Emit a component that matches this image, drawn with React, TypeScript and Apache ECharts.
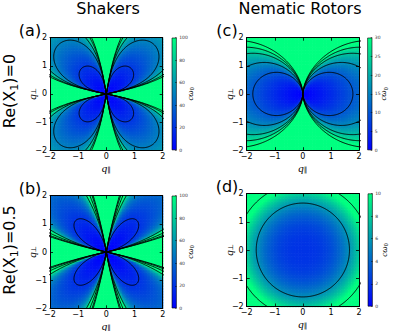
import React, { useEffect, useRef } from 'react';
import * as echarts from 'echarts';

// ---- data / model parameters ----
const AXIS_MIN = -2;
const AXIS_MAX = 2;
const AXIS_STEP = 1;
const COLUMN_TITLES = ['Shakers', 'Nematic Rotors'];
const ROW_TITLES = ['Re(X', ')=0', ')=0.5'];
const PANEL_TAGS = ['(a)', '(b)', '(c)', '(d)'];
const COLORBAR_MAX = [100, 100, 30, 10];
const COLORBAR_STEP = [20, 20, 5, 2];
const CONTOUR_LEVELS_A = [21.7, 51, 71, 93, 112];
const CONTOUR_LEVELS_B = [19.6, 89, 143, 240, 351];
const CONTOUR_LEVELS_C = [10.3, 16.5, 22.7, 27, 31.9];
const CONTOUR_LEVELS_D = [5.74, 11.4];
const SHAKER_WEDGE_DEG = [12, 80];
const SHAKER_GAIN = [16, 11];
const SHAKER_RADIAL_POWER = [1.3, 1.3];
const SHAKER_ANGULAR_POWER = [0.65, 1.3];
const ROTOR_PARAMS = [5, 1.25, 1.5]; // gain, exponent, cosine power
const ISO_PARAMS = [2, 1.0, 2.6]; // base, gain, radial power
const GRID_CELLS = 72;

// ---- layout ----
const PLOTS = [
  { left: 50, top: 37.7, width: 112.7, height: 112.5 },
  { left: 50, top: 195.7, width: 112.7, height: 112.6 },
  { left: 246.7, top: 37.7, width: 112.3, height: 112.5 },
  { left: 246.7, top: 193.5, width: 112.3, height: 113 },
];
const CBARS = [
  { left: 171.7, top: 37.7, width: 5, height: 112.5 },
  { left: 171.7, top: 195.7, width: 5, height: 112.6 },
  { left: 367.3, top: 37.7, width: 5, height: 112.5 },
  { left: 367.7, top: 193.5, width: 5, height: 113 },
];

const DEG = Math.PI / 180;
const FONT = '"DejaVu Sans", sans-serif';
const SERIF = '"Liberation Serif", "DejaVu Serif", serif';

function winter(t: number) {
  const u = Math.max(0, Math.min(1, t));
  return `rgb(0,${Math.round(255 * u)},${Math.round(255 * (1 - 0.5 * u))})`;
}

function shakerAngular(theta: number) {
  const t = Math.atan2(Math.abs(Math.sin(theta)), Math.abs(Math.cos(theta)));
  const t1 = SHAKER_WEDGE_DEG[0] * DEG;
  const t2 = SHAKER_WEDGE_DEG[1] * DEG;
  if (t <= t1 || t >= t2) return 0;
  return Math.sin((Math.PI * (t - t1)) / (t2 - t1));
}

function shakerValue(k: number, x: number, y: number) {
  const g = shakerAngular(Math.atan2(y, x));
  if (g <= 0) return Infinity;
  const r = Math.hypot(x, y);
  return (SHAKER_GAIN[k] * Math.pow(r, SHAKER_RADIAL_POWER[k])) / Math.pow(g, SHAKER_ANGULAR_POWER[k]);
}
function shakerRadius(k: number, level: number, theta: number) {
  const g = shakerAngular(theta);
  const a = SHAKER_RADIAL_POWER[k];
  return Math.pow(level / SHAKER_GAIN[k], 1 / a) * Math.pow(g, SHAKER_ANGULAR_POWER[k] / a);
}

function rotorValue(x: number, y: number) {
  const r = Math.hypot(x, y);
  const c = Math.abs(x) / (r || 1);
  if (c <= 0) return Infinity;
  const d = r / Math.pow(c, ROTOR_PARAMS[2]);
  return ROTOR_PARAMS[0] * Math.pow(d, ROTOR_PARAMS[1]);
}
function rotorRadius(level: number, theta: number) {
  const d = Math.pow(level / ROTOR_PARAMS[0], 1 / ROTOR_PARAMS[1]);
  return d * Math.pow(Math.abs(Math.cos(theta)), ROTOR_PARAMS[2]);
}

function isoValue(x: number, y: number) {
  const r = Math.hypot(x, y);
  return ISO_PARAMS[0] + ISO_PARAMS[1] * Math.pow(r, ISO_PARAMS[2]);
}
function isoRadius(level: number) {
  return Math.pow((level - ISO_PARAMS[0]) / ISO_PARAMS[1], 1 / ISO_PARAMS[2]);
}

function buildField(fn: (x: number, y: number) => number, vmax: number) {
  const out: number[][] = [];
  const step = (AXIS_MAX - AXIS_MIN) / GRID_CELLS;
  for (let iy = 0; iy < GRID_CELLS; iy++) {
    for (let ix = 0; ix < GRID_CELLS; ix++) {
      const x = AXIS_MIN + (ix + 0.5) * step;
      const y = AXIS_MIN + (iy + 0.5) * step;
      out.push([x, y, Math.min(fn(x, y), vmax)]);
    }
  }
  return out;
}

function polarCurve(rFn: (t: number) => number) {
  const pts: number[][] = [];
  const n = 2400;
  for (let k = 0; k <= n; k++) {
    const t = (k * 2 * Math.PI) / n;
    const r = rFn(t);
    pts.push([r * Math.cos(t), r * Math.sin(t)]);
  }
  return pts;
}

const minusFmt = (v: number) => (v < 0 ? '\u2212' + Math.abs(v) : String(v));

export default function App() {
  const ref = useRef<HTMLDivElement>(null);
  useEffect(() => {
    if (!ref.current) return;
    const chart = echarts.init(ref.current, undefined, { renderer: 'svg' });

    const fields = [
      (x: number, y: number) => shakerValue(0, x, y),
      (x: number, y: number) => shakerValue(1, x, y),
      rotorValue,
      isoValue,
    ];
    const contours: number[][][][] = [
      CONTOUR_LEVELS_A.map((L) => polarCurve((t) => shakerRadius(0, L, t))),
      CONTOUR_LEVELS_B.map((L) => polarCurve((t) => shakerRadius(1, L, t))),
      CONTOUR_LEVELS_C.map((L) => polarCurve((t) => rotorRadius(L, t))),
      CONTOUR_LEVELS_D.map((L) => polarCurve(() => isoRadius(L))),
    ];

    const grid: any[] = [];
    const xAxis: any[] = [];
    const yAxis: any[] = [];
    const series: any[] = [];
    const tick = { show: true, inside: true, length: 3, lineStyle: { color: '#000', width: 0.8 } };
    const line = { show: true, onZero: false, lineStyle: { color: '#000', width: 1 } };
    const label = { fontSize: 8, color: '#000', fontFamily: FONT, formatter: minusFmt };

    PLOTS.forEach((p, i) => {
      grid.push({ ...p, containLabel: false });
      const common = { type: 'value', gridIndex: i, min: AXIS_MIN, max: AXIS_MAX, interval: AXIS_STEP, splitLine: { show: false }, axisLine: line, axisTick: tick, z: 5 };
      xAxis.push({ ...common, position: 'bottom', axisLabel: { ...label, margin: 2 } });
      xAxis.push({ ...common, position: 'top', axisLabel: { show: false } });
      yAxis.push({ ...common, position: 'left', axisLabel: { ...label, margin: 3 } });
      yAxis.push({ ...common, position: 'right', axisLabel: { show: false } });
    });
    CBARS.forEach((c, i) => {
      grid.push({ ...c, containLabel: false });
      xAxis.push({ type: 'category', gridIndex: 4 + i, data: ['cb'], show: false });
      yAxis.push({
        type: 'value', gridIndex: 4 + i, min: 0, max: COLORBAR_MAX[i], interval: COLORBAR_STEP[i], position: 'right',
        splitLine: { show: false }, axisLine: { show: false },
        axisTick: { show: true, inside: true, length: 1.6, lineStyle: { color: '#000', width: 0.5 } },
        axisLabel: { fontSize: 4.5, margin: 2.5, color: '#333', fontFamily: FONT }, z: 5,
      });
    });

    const half = (AXIS_MAX - AXIS_MIN) / GRID_CELLS / 2;
    PLOTS.forEach((_, i) => {
      const vmax = COLORBAR_MAX[i];
      series.push({
        type: 'custom', xAxisIndex: 2 * i, yAxisIndex: 2 * i, silent: true, z: 1,
        data: buildField(fields[i], vmax),
        renderItem: (params: any, api: any) => {
          const x = api.value(0), y = api.value(1), v = api.value(2);
          const a = api.coord([x - half, y + half]);
          const b = api.coord([x + half, y - half]);
          return {
            type: 'rect',
            shape: { x: a[0], y: a[1], width: b[0] - a[0] + 0.6, height: b[1] - a[1] + 0.6 },
            style: { fill: winter(v / vmax), stroke: null },
          };
        },
      });
      contours[i].forEach((pts) => {
        series.push({
          type: 'line', xAxisIndex: 2 * i, yAxisIndex: 2 * i, data: pts, symbol: 'none', showSymbol: false,
          lineStyle: { color: '#000', width: 0.9 }, silent: true, z: 3, clip: true,
        });
      });
    });
    CBARS.forEach((_, i) => {
      series.push({
        type: 'bar', xAxisIndex: 8 + i, yAxisIndex: 8 + i, data: [COLORBAR_MAX[i]], barWidth: '100%', silent: true,
        itemStyle: {
          color: new echarts.graphic.LinearGradient(0, 1, 0, 0, [
            { offset: 0, color: winter(0) },
            { offset: 1, color: winter(1) },
          ]),
          borderColor: '#000', borderWidth: 0.6,
        },
      });
    });

    const graphic: any[] = [];
    const txt = (x: number, y: number, text: string, fontSize: number, rotation = 0, family = FONT) => ({
      type: 'text', x, y, rotation, silent: true,
      style: { text, fontSize, fontFamily: family, fill: '#000', align: 'center', verticalAlign: 'middle' },
    });
    graphic.push(txt(108, 8, COLUMN_TITLES[0], 16));
    graphic.push(txt(300, 8, COLUMN_TITLES[1], 16));
    graphic.push(txt(30, 30, PANEL_TAGS[0], 16));
    graphic.push(txt(30, 188, PANEL_TAGS[1], 16));
    graphic.push(txt(227, 30, PANEL_TAGS[2], 16));
    graphic.push(txt(227, 186, PANEL_TAGS[3], 16));

    const rowRich = {
      m: { fontSize: 16, fontFamily: FONT, lineHeight: 20, verticalAlign: 'middle' },
      s: { fontSize: 11, fontFamily: FONT, lineHeight: 11, verticalAlign: 'bottom' },
    };
    [[91, ROW_TITLES[1]], [250, ROW_TITLES[2]]].forEach(([y, tail]) => {
      graphic.push({
        type: 'text', x: 9.5, y: y as number, rotation: Math.PI / 2, silent: true,
        style: { text: `{m|${ROW_TITLES[0]}}{s|1}{m|${tail}}`, rich: rowRich, fill: '#000', align: 'center', verticalAlign: 'middle' },
      });
    });

    const qRich = {
      q: { fontSize: 11, fontStyle: 'italic', fontFamily: SERIF, lineHeight: 11, verticalAlign: 'middle' },
      s: { fontSize: 7, fontFamily: FONT, lineHeight: 7, verticalAlign: 'bottom' },
    };
    const cRich = {
      q: { fontSize: 9, fontStyle: 'italic', fontFamily: SERIF, lineHeight: 11, verticalAlign: 'middle' },
      s: { fontSize: 6, fontFamily: SERIF, lineHeight: 6, verticalAlign: 'bottom' },
    };
    PLOTS.forEach((p, i) => {
      const cx = p.left + p.width / 2;
      const cy = p.top + p.height / 2;
      graphic.push({
        type: 'text', x: cx, y: p.top + p.height + 17.5, silent: true,
        style: { text: '{q|q}{s|\u2225}', rich: qRich, fill: '#000', align: 'center', verticalAlign: 'middle' },
      });
      graphic.push({
        type: 'text', x: p.left - 18, y: cy, rotation: Math.PI / 2, silent: true,
        style: { text: '{q|q}{s|\u22a5}', rich: qRich, fill: '#000', align: 'center', verticalAlign: 'middle' },
      });
      const cb = CBARS[i];
      const off = i < 2 ? 13 : 11;
      graphic.push({
        type: 'text', x: cb.left + cb.width + off, y: cy, rotation: Math.PI / 2, silent: true,
        style: { text: '{q|c\u03c9}{s|0}', rich: cRich, fill: '#000', align: 'center', verticalAlign: 'middle' },
      });
    });

    chart.setOption({ animation: false, backgroundColor: '#fff', grid, xAxis, yAxis, series, graphic });
    return () => chart.dispose();
  }, []);
  return <div ref={ref} style={{ position: 'fixed', left: 0, top: 0, width: 415, height: 331, background: '#fff' }} />;
}
